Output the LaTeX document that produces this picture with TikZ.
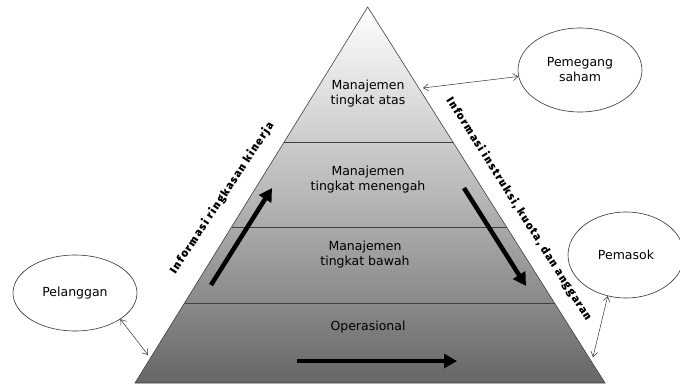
\documentclass[tikz,border=0pt]{standalone}
\usepackage{fontspec}
\setmainfont{DejaVu Sans}
\newfontfamily\sidefont[LetterSpace=14]{Fira Sans Black}
\usetikzlibrary{arrows.meta,shapes.geometric}
\begin{document}
\begin{tikzpicture}[x=1pt,y=-1pt,
  lvl/.style={font=\fontsize{12.5}{15}\selectfont, align=center, text=black},
  bubble/.style={draw=black!80, ellipse, line width=0.6pt, inner sep=0pt, font=\fontsize{12.5}{15}\selectfont, align=center, text=black},
  band/.style={draw=black!75, line width=0.6pt},
  bigarrow/.style={line width=4.5pt, -{Triangle[length=13pt,width=14pt]}},
  link/.style={draw=black!80, line width=0.5pt, {Straight Barb[length=5pt,width=7pt]}-{Straight Barb[length=5pt,width=7pt]}},
  sidetext/.style={font=\sidefont\fontsize{11.2}{13}\selectfont, text=black, inner sep=0pt}]
\useasboundingbox (0,0) rectangle (680,385);
% pyramid
\coordinate (top) at (367.7,7);
\coordinate (bl) at (135,383);
\coordinate (br) at (605,383);
\shade[top color=white, bottom color=black!60, middle color=black!28, shading angle=0] (top) -- (bl) -- (br) -- cycle;
\draw[draw=black!75, line width=0.6pt] (top) -- (bl) -- (br) -- cycle;
% bands
\coordinate (l1) at (284.2,142); \coordinate (r1) at (452.9,142);
\coordinate (l2) at (231.6,227); \coordinate (r2) at (506.5,227);
\coordinate (l3) at (184.6,303); \coordinate (r3) at (554.5,303);
\draw[band] (l1) -- (r1);
\draw[band] (l2) -- (r2);
\draw[band] (l3) -- (r3);
% level labels
\node[lvl] (n1) at (368,94) {Manajemen\\tingkat atas};
\node[lvl] (n2) at (368,180) {Manajemen\\tingkat menengah};
\node[lvl] (n3) at (365,255) {Manajemen\\tingkat bawah};
\node[lvl] (n4) at (368,327) {Operasional};
% big arrows
\coordinate (ua) at (211,285); \coordinate (ub) at (272,188);
\coordinate (da) at (464,188); \coordinate (db) at (526,286);
\coordinate (ha) at (297,361); \coordinate (hb) at (457,361);
\draw[bigarrow] (ua) -- (ub);
\draw[bigarrow] (da) -- (db);
\draw[bigarrow] (ha) -- (hb);
% side texts
\node[sidetext, rotate=56.5] (s1) at (222,198) {Informasi ringkasan kinerja};
\node[sidetext, rotate=-57.7] (s2) at (519,209) {Informasi instruksi, kuota, dan anggaran};
% ellipses
\node[bubble, minimum width=124pt, minimum height=84pt] (ps) at (580,70) {Pemegang\\saham};
\node[bubble, minimum width=116pt, minimum height=86pt] (pm) at (626,255) {Pemasok};
\node[bubble, minimum width=124pt, minimum height=76pt] (pl) at (75,293) {Pelanggan};
% links
\coordinate (a1) at (423,88);
\coordinate (b2) at (148,355);
\coordinate (c2) at (593,357);
\draw[link] (a1) -- (ps.186);
\draw[link] (pl.-30) -- (b2);
\draw[link] (pm.246) -- (c2);
\end{tikzpicture}
\end{document}
